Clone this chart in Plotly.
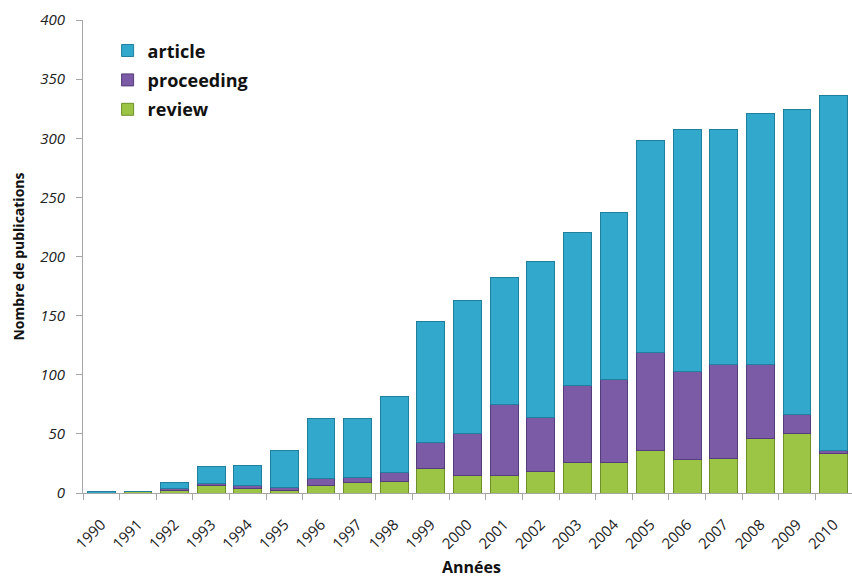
import plotly.graph_objects as go

years = [str(y) for y in range(1990, 2011)]
review =     [0, 1, 2, 6, 4, 2, 6, 9, 10, 21, 15, 15, 18, 26, 26, 36, 28, 29, 46, 50, 33]
proceeding = [0, 0, 2, 2, 2, 3, 6, 4, 7, 22, 35, 60, 46, 65, 70, 83, 75, 80, 63, 16, 3]
article =    [1, 0, 5, 14, 17, 31, 51, 50, 65, 102, 113, 107, 132, 129, 141, 179, 204, 198, 212, 258, 300]

FONT = "Open Sans"

fig = go.Figure()
fig.add_trace(go.Bar(x=years, y=review, name="review", legendgroup="r", legendrank=3,
                     marker=dict(color="#9CC545", line=dict(color="#6E8F2A", width=1))))
fig.add_trace(go.Bar(x=years, y=proceeding, name="proceeding", legendgroup="p", legendrank=2,
                     marker=dict(color="#7B5AA6", line=dict(color="#553C7A", width=1))))
fig.add_trace(go.Bar(x=years, y=article, name="article", legendgroup="a", legendrank=1,
                     marker=dict(color="#32A8CC", line=dict(color="#1F7F9C", width=1))))

fig.update_layout(
    barmode="stack",
    bargap=0.24,
    paper_bgcolor="white",
    plot_bgcolor="white",
    margin=dict(l=83, r=0, t=20, b=86),
    font=dict(family=FONT, color="#222222"),
    showlegend=True,
    legend=dict(
        x=0.032, y=0.974, xanchor="left", yanchor="top",
        traceorder="grouped",
        tracegroupgap=3,
        font=dict(family=FONT, size=18, color="#111111", weight="bold"),
        bgcolor="rgba(0,0,0,0)",
        itemwidth=30,
    ),
    xaxis=dict(
        type="category",
        automargin=False,
        showline=True, linecolor="#A6A6A6", linewidth=1,
        ticks="outside", ticklen=6, tickcolor="#A6A6A6", tickson="boundaries",
        tickangle=-45,
        ticklabelstandoff=16,
        tickfont=dict(family=FONT, size=15, color="#222222"),
        showgrid=False,
    ),
    yaxis=dict(
        range=[0, 400], dtick=50,
        automargin=False,
        showline=True, linecolor="#A6A6A6", linewidth=1,
        ticks="outside", ticklen=6, tickcolor="#A6A6A6",
        ticklabelstandoff=8,
        tickfont=dict(family=FONT, size=15, color="#222222", style="italic"),
        showgrid=False, zeroline=False,
    ),
    annotations=[
        dict(text="<b>Années</b>", xref="paper", yref="paper", x=0.5046, y=-0.1565,
             xanchor="center", yanchor="middle", showarrow=False, borderpad=0,
             font=dict(family=FONT, size=16, color="#111111")),
        dict(text="<b>Nombre de publications</b>", xref="paper", yref="paper",
             x=-0.0845, y=0.5, xanchor="center", yanchor="middle", textangle=-90,
             showarrow=False, font=dict(family=FONT, size=14, color="#111111")),
    ],
)

post = ("document.documentElement.style.margin='0px';"
        "document.body.style.margin='0px';"
        "document.documentElement.style.height='100%';"
        "document.body.style.height='100%';"
        "Plotly.Plots.resize(document.getElementById('{plot_id}'));")

fig.write_html("out.html", post_script=post, config={"displayModeBar": False})
